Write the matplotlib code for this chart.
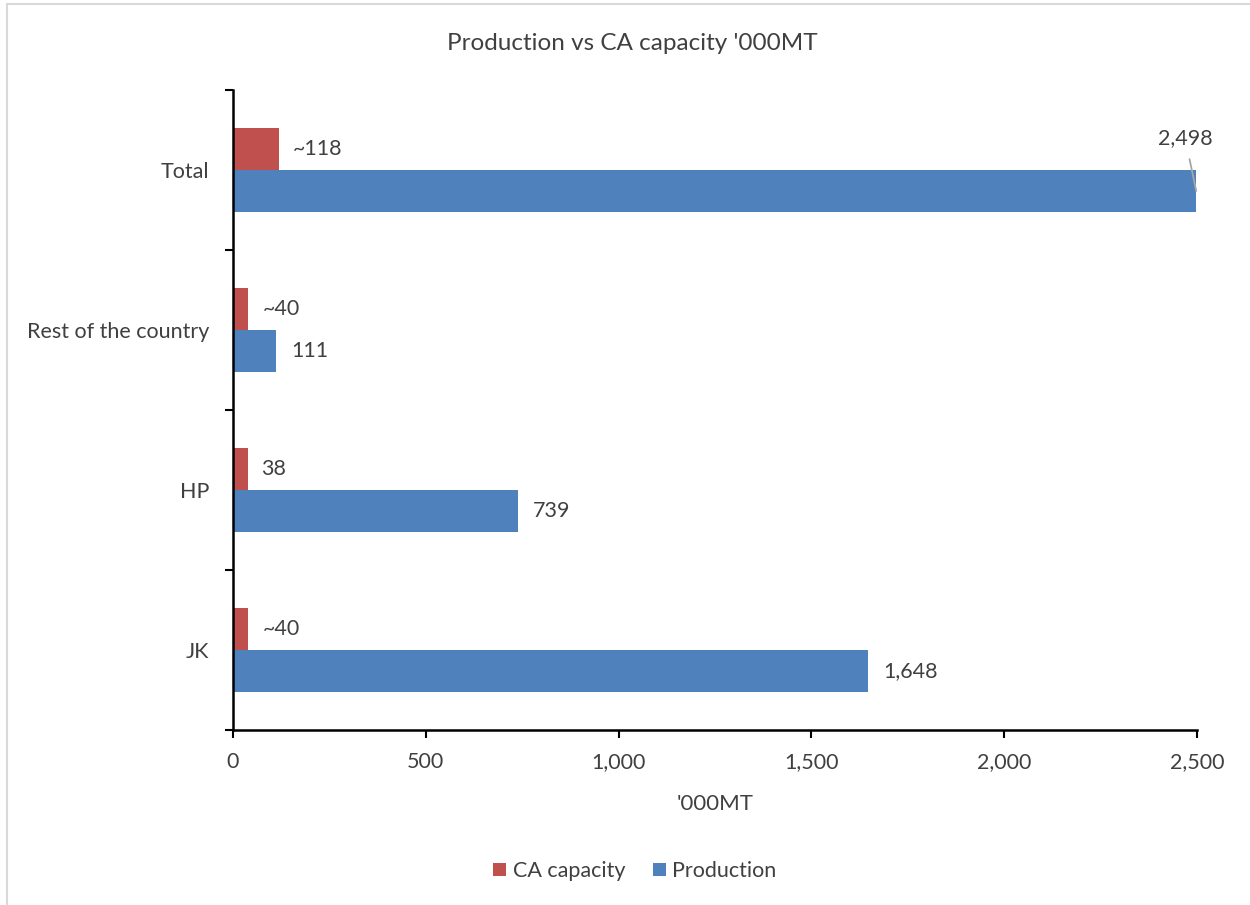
import matplotlib.pyplot as plt
from matplotlib.patches import Rectangle

plt.rcParams['font.family'] = ['Lato', 'DejaVu Sans']

# data
regions = ['JK', 'HP', 'Rest of the country', 'Total']
ca_capacity = [40, 38, 40, 118]
production = [1648, 739, 111, 2498]
ca_labels = ['~40', '38', '~40', '~118']
prod_labels = ['1,648', '739', '111', '2,498']

red = '#C0504D'
blue = '#4F81BD'
txt = '#404040'

fig = plt.figure(figsize=(12.5, 9.05), dpi=100)
ax = fig.add_axes([0.1864, 0.1934, 0.7712, 0.7072])

# light grey frame around the chart area
fig.patches.append(Rectangle((7 / 1250, -0.01), 1.0, 1 - 4 / 905 + 0.01,
                             transform=fig.transFigure, fill=False,
                             edgecolor='#D9D9D9', linewidth=1.5))

h = 0.2625
ypos = list(range(len(regions)))
ax.barh([y + h / 2 for y in ypos], ca_capacity, height=h, color=red, label='CA capacity')
ax.barh([y - h / 2 for y in ypos], production, height=h, color=blue, label='Production')

for i, y in enumerate(ypos):
    ax.annotate(ca_labels[i], (ca_capacity[i], y + h / 2), xytext=(10, 0),
                textcoords='offset points', va='center', ha='left',
                fontsize=15.5, color=txt)
    if regions[i] == 'Total':
        # label sits above the bar end, with a leader line
        ax.annotate(prod_labels[i], (production[i], y - h / 2),
                    xytext=(-8, 38), textcoords='offset points',
                    va='center', ha='center', fontsize=15.5, color=txt,
                    arrowprops=dict(arrowstyle='-', color='#A6A6A6', lw=1.3,
                                    shrinkA=6, shrinkB=0))
    else:
        ax.annotate(prod_labels[i], (production[i], y - h / 2), xytext=(11, 0),
                    textcoords='offset points', va='center', ha='left',
                    fontsize=15.5, color=txt)

ax.set_xlim(0, 2500)
ax.set_ylim(-0.5, 3.5)
ax.set_xticks([0, 500, 1000, 1500, 2000, 2500])
ax.set_xticklabels(['0', '500', '1,000', '1,500', '2,000', '2,500'])
ax.set_yticks(ypos)
ax.set_yticklabels(regions)
ax.set_yticks([y - 0.5 for y in range(len(regions) + 1)], minor=True)
ax.tick_params(axis='y', which='major', length=0, pad=17, labelsize=15.5, labelcolor=txt)
ax.tick_params(axis='y', which='minor', length=6, width=1.5, direction='out', color='black')
ax.tick_params(axis='x', which='major', length=6, width=1.5, direction='out',
               pad=10, labelsize=15.5, labelcolor=txt)

for s in ['top', 'right']:
    ax.spines[s].set_visible(False)
for s in ['left', 'bottom']:
    ax.spines[s].set_linewidth(1.8)
    ax.spines[s].set_color('black')

ax.set_xlabel("'000MT", fontsize=16, color=txt, labelpad=16)
fig.text(0.506, 1 - 43 / 905, "Production vs CA capacity '000MT", ha='center', va='center',
         fontsize=17.5, color=txt)

fig.legend(loc='center', bbox_to_anchor=(0.508, 1 - 871 / 905), ncol=2, frameon=False,
           fontsize=15.5, labelcolor=txt, handlelength=0.6, handleheight=0.6,
           handletextpad=0.3, columnspacing=1.3)

fig.savefig('out.png', dpi=100)
